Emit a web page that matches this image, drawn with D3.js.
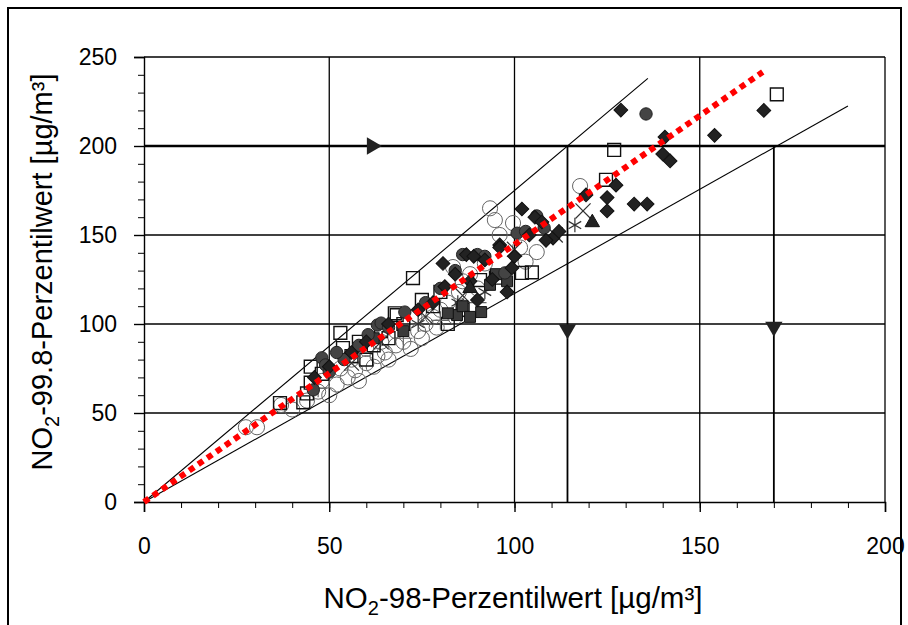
<!DOCTYPE html>
<html>
<head>
<meta charset="utf-8">
<script src="https://cdn.jsdelivr.net/npm/d3@7"></script>
<style>
  body { margin: 0; background: #fff; }
  svg text { font-family: "Liberation Sans", Arial, sans-serif; fill: #000; }
</style>
</head>
<body>
<svg id="chart" width="908" height="625"></svg>
<script>
// axis ticks
const xMajor = [0, 50, 100, 150, 200];
const yMajor = [0, 50, 100, 150, 200, 250];

// reference lines [x, y]
const coneUpper = [[0, 0], [136, 238]];
const coneLower = [[0, 0], [190, 222.5]];
const regression = [[0, 0], [167, 241.6]];
const limitY = 200;
const limitX = [114.3, 170];
const arrowRight = [[61.5, 200]];
const arrowDown = [[114.3, 97], [170, 98.5]];

// scatter series, [NO2-98, NO2-99.8]
const openCircles = [
  [27.5, 42], [30.5, 42], [37, 54.5], [40, 52], [44, 57], [47, 62], [50, 60], [52, 66],
  [55, 70], [57, 74], [58, 68], [60, 78], [62, 76], [63, 82], [65, 84], [66, 80],
  [68, 88], [70, 90], [72, 86], [74, 96], [76, 100], [73, 104], [78, 104], [80, 108],
  [82, 112], [83.4, 132], [85, 118], [86, 124], [88, 128], [90, 120], [92, 134],
  [93.4, 165], [94.7, 158.4], [96, 150], [99.6, 156.7], [101.5, 143], [106, 140.4],
  [103, 135], [117.7, 177.5], [56, 80], [60, 86], [64, 90], [68, 96], [48, 68],
  [53, 75], [75, 92], [79, 98], [84, 104]
];
const openSquares = [
  [36.7, 55.6], [43, 56], [44, 61], [45, 67], [45, 76], [48, 72], [53, 95], [53.7, 86.5],
  [56, 82], [58, 90], [62, 88], [64, 96], [67.7, 106], [68.2, 105], [72.6, 125.8],
  [75, 113.5], [78, 110], [80, 118], [82, 100], [86, 108], [90.7, 124.7], [95, 126],
  [102, 128.7], [104.7, 129], [124.7, 181], [126.9, 197.8], [170.8, 229], [60, 80],
  [66, 92], [70, 100]
];
const plusMarks = [[58, 84], [70, 92], [80, 102], [90, 112], [47, 64]];
const crossMarks = [[118.5, 163.5], [111, 150], [100, 142], [86, 116], [76, 104], [64, 90], [56, 78]];
const starMarks = [[116.3, 155.6], [84.7, 112], [74, 100], [92, 118]];
const filledSquares = [
  [84.5, 105], [91, 106.7], [93.4, 122], [86, 110], [88, 104], [82, 106], [95, 128],
  [98, 124], [70, 96], [62, 92]
];
const filledCircles = [
  [135.5, 218], [106, 160.7], [100.7, 151], [63, 99.4], [64, 100.5], [60.5, 94], [48, 81],
  [49, 77], [50, 73], [45.7, 63], [70.4, 106.7], [97.4, 128.7], [86, 139], [90, 139],
  [92, 138], [84, 130], [66, 98], [58, 88], [54, 80], [52, 84], [76, 112], [80, 120],
  [108, 154], [103, 152]
];
const filledDiamonds = [
  [128.7, 220.2], [140.6, 205], [140, 195.5], [142, 191.6], [154, 206], [167.3, 220],
  [127.4, 178], [125, 171], [125, 163.5], [132.3, 167.4], [135.8, 167.4], [119.3, 172.5],
  [102, 164.6], [105.5, 160], [107.4, 157.3], [110.4, 148.3], [108.5, 147], [96, 144.4],
  [96, 143], [99.3, 131.5], [80.7, 134], [81.2, 121], [90, 113.5], [87, 139], [89, 138],
  [92, 136], [84, 128], [88, 124], [94, 125], [78, 112], [74, 108], [66, 100], [60, 90],
  [56, 84], [50, 76], [46, 70], [112, 152], [100, 138], [98, 118], [104, 150]
];
const triangles = [[121, 157], [88, 120]];

const svg = d3.select("#chart");

const x = d3.scaleLinear().domain([0, 200]).range([144, 885]);
const y = d3.scaleLinear().domain([0, 250]).range([502, 57]);

// outer frame
svg.append("rect")
  .attr("x", 8).attr("y", 8).attr("width", 893).attr("height", 660)
  .attr("fill", "none").attr("stroke", "#000").attr("stroke-width", 2);

// grid
const grid = svg.append("g").attr("stroke", "#000").attr("stroke-width", 1.3);
grid.selectAll(".gx").data(xMajor.slice(1)).join("line")
  .attr("x1", d => x(d)).attr("x2", d => x(d))
  .attr("y1", y(0)).attr("y2", y(250));
grid.selectAll(".gy").data(yMajor.slice(1)).join("line")
  .attr("x1", x(0)).attr("x2", x(200))
  .attr("y1", d => y(d)).attr("y2", d => y(d));

// minor + major ticks
svg.append("g").attr("transform", `translate(0,${y(0)})`)
  .call(d3.axisBottom(x).tickValues(d3.range(0, 201, 10)).tickSize(6).tickFormat(""))
  .call(g => g.select(".domain").remove());
svg.append("g").attr("transform", `translate(${x(0)},0)`)
  .call(d3.axisLeft(y).tickValues(d3.range(0, 251, 10)).tickSize(6).tickFormat(""))
  .call(g => g.select(".domain").remove());

const xAxis = svg.append("g").attr("transform", `translate(0,${y(0)})`)
  .call(d3.axisBottom(x).tickValues(xMajor).tickSize(10).tickPadding(26));
const yAxis = svg.append("g").attr("transform", `translate(${x(0)},0)`)
  .call(d3.axisLeft(y).tickValues(yMajor).tickSize(10).tickPadding(17));
[xAxis, yAxis].forEach(a => {
  a.selectAll("path,line").attr("stroke", "#000").attr("stroke-width", 1.4);
  a.selectAll("text").style("font-size", "23px")
    .style("font-family", "'Liberation Sans', Arial, sans-serif");
});

// limit lines and arrows
const lines = svg.append("g").attr("stroke", "#000").attr("fill", "none");
lines.append("line")
  .attr("x1", x(0)).attr("x2", x(200)).attr("y1", y(limitY)).attr("y2", y(limitY))
  .attr("stroke-width", 2.6);
lines.selectAll(".lx").data(limitX).join("line")
  .attr("x1", d => x(d)).attr("x2", d => x(d))
  .attr("y1", y(limitY)).attr("y2", y(0)).attr("stroke-width", 1.8);

const lineGen = d3.line().x(d => x(d[0])).y(d => y(d[1]));
[coneUpper, coneLower].forEach(c => {
  lines.append("path").attr("d", lineGen(c)).attr("stroke-width", 1.1);
});

svg.selectAll(".ar").data(arrowRight).join("path")
  .attr("transform", d => `translate(${x(d[0])},${y(d[1])}) rotate(90)`)
  .attr("d", d3.symbol(d3.symbolTriangle, 130)).attr("fill", "#222");
svg.selectAll(".ad").data(arrowDown).join("path")
  .attr("transform", d => `translate(${x(d[0])},${y(d[1])}) rotate(180)`)
  .attr("d", d3.symbol(d3.symbolTriangle, 130)).attr("fill", "#222");

// scatter
function drawSeries(data, type, size, fill, stroke, sw, rot) {
  svg.append("g").selectAll("path").data(data).join("path")
    .attr("transform", d => `translate(${x(d[0])},${y(d[1])})` + (rot ? ` rotate(${rot})` : ""))
    .attr("d", d3.symbol(type, size))
    .attr("fill", fill).attr("stroke", stroke).attr("stroke-width", sw);
}
drawSeries(openCircles, d3.symbolCircle, 180, "none", "#666", 1);
drawSeries(openSquares, d3.symbolSquare, 165, "none", "#111", 1.4);
drawSeries(plusMarks, d3.symbolPlus, 110, "none", "#666", 1.2);
drawSeries(crossMarks, d3.symbolTimes, 150, "none", "#333", 1.2);
drawSeries(starMarks, d3.symbolAsterisk, 150, "none", "#333", 1.2);
drawSeries(filledSquares, d3.symbolSquare, 120, "#3a3a3a", "#111", 1);
drawSeries(filledCircles, d3.symbolCircle, 120, "#444", "#222", 1);
drawSeries(filledDiamonds, d3.symbolSquare, 95, "#222", "#111", 1, 45);
drawSeries(triangles, d3.symbolTriangle, 90, "#222", "#111", 1);

// regression (red dotted)
svg.append("path").attr("d", lineGen(regression))
  .attr("fill", "none").attr("stroke", "#f00").attr("stroke-width", 6)
  .attr("stroke-dasharray", "6,5");

// axis titles
const xt = svg.append("text").attr("x", 513).attr("y", 608)
  .attr("text-anchor", "middle").style("font-size", "29.5px");
xt.append("tspan").text("NO");
xt.append("tspan").attr("dy", 7).style("font-size", "20px").text("2");
xt.append("tspan").attr("dy", -7).text("-98-Perzentilwert [µg/m³]");

const yt = svg.append("text")
  .attr("transform", "translate(52,272) rotate(-90)")
  .attr("text-anchor", "middle").style("font-size", "29px");
yt.append("tspan").text("NO");
yt.append("tspan").attr("dy", 7).style("font-size", "20px").text("2");
yt.append("tspan").attr("dy", -7).text("-99.8-Perzentilwert [µg/m³]");
</script>
</body>
</html>
